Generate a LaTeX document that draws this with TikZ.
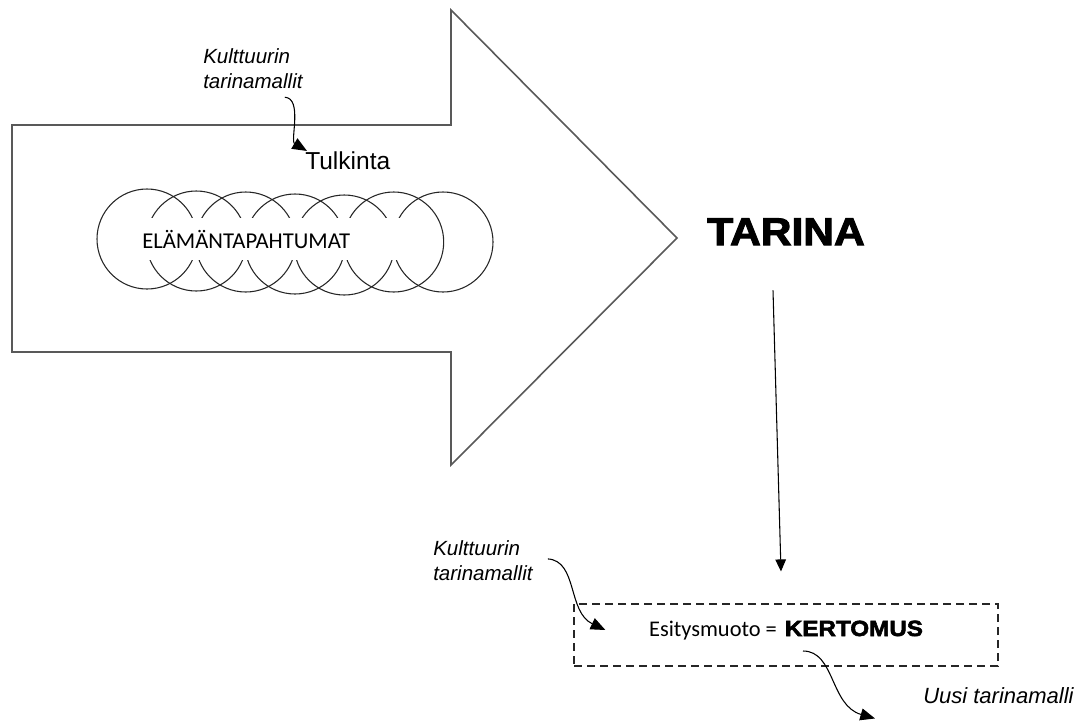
\documentclass[tikz,border=0pt]{standalone}
\usepackage{fontspec}
\setmainfont{Liberation Sans}
\newfontfamily\calibri{Carlito}
\newfontfamily\heavyfont[FakeBold=2.6,FakeStretch=1.1]{Liberation Sans}
\usepackage{tikz}
\usetikzlibrary{arrows.meta}
\tikzset{tale/.style={-{Triangle[length=11pt,width=9pt]}, line width=0.8pt}}

\begin{document}
\begin{tikzpicture}[x=0.75pt, y=-0.75pt, event/.style={circle, draw=black!85, line width=0.8pt, minimum size=75pt, inner sep=0}, note/.style={font=\fontsize{15.4}{18.75}\selectfont\itshape, align=left, inner sep=0}]
    \useasboundingbox (0,0) rectangle (1075,722);
    % big arrow
    \draw[black!65, line width=1.2pt] (12,125) -- (451,125) -- (451,10) -- (677,238) -- (451,465) -- (451,352) -- (12,352) -- cycle;

    \foreach \x/\y [count=\i] in {147/239, 196.3/241, 245.7/242, 295/244, 344.3/245, 393.7/242, 443/242}
        \node[event] (c\i) at (\x,\y) {};
    \node[fill=white, anchor=west, inner xsep=1.5pt, inner ysep=0, minimum height=32pt, text width=199pt, align=left, font=\calibri\fontsize{17}{20}\selectfont] (life) at (140,239) {ELÄMÄNTAPAHTUMAT};

    \node[note, anchor=north west] (k1) at (203,48.6) {Kulttuurin\\tarinamallit};
    \node[inner sep=0, anchor=base west, font=\fontsize{18.4}{22}\selectfont] (tulk) at (305,169) {Tulkinta};
    \node[inner sep=0, anchor=base, font=\heavyfont\bfseries\fontsize{29}{34}\selectfont] (tarina) at (786,245) {TARINA};

    \node[note, anchor=north west] (k2) at (433,540.6) {Kulttuurin\\tarinamallit};
    \node[draw=black!85, dash pattern=on 6pt off 3.75pt, line width=0.9pt, minimum width=318pt, minimum height=46.5pt, inner sep=0, text height=12pt, text depth=10.5pt] (form) at (786,635) {{\calibri\fontsize{16.8}{20}\selectfont Esitysmuoto =}\hspace{6pt}{\heavyfont\bfseries\fontsize{16.5}{20}\selectfont KERTOMUS}};
    \node[inner sep=0, anchor=base west, font=\fontsize{16.5}{20}\selectfont\itshape] (uusi) at (923,703) {Uusi tarinamalli};

    % connectors
    \draw[tale] ([xshift=-13.5pt,yshift=-6pt]k1.south east) .. controls +(18,1) and +(-17,-10) .. ([xshift=1.5pt]tulk.north west);
    \draw[-{Triangle[length=9pt,width=8pt]}, line width=0.8pt] ([xshift=-9.75pt,yshift=-33.75pt]tarina.south) -- ([xshift=-3.75pt,yshift=24pt]form.north);
    \draw[tale] ([xshift=11.25pt,yshift=1.5pt]k2.east) .. controls +(30,2) and +(-38,-18) .. ([xshift=24pt,yshift=3.75pt]form.west);
    \draw[tale] ([xshift=12.75pt,yshift=-12pt]form.center) .. controls +(32,0) and +(-45,-13) .. ([xshift=-36pt,yshift=-11.25pt]uusi.south west);
\end{tikzpicture}
\end{document}
